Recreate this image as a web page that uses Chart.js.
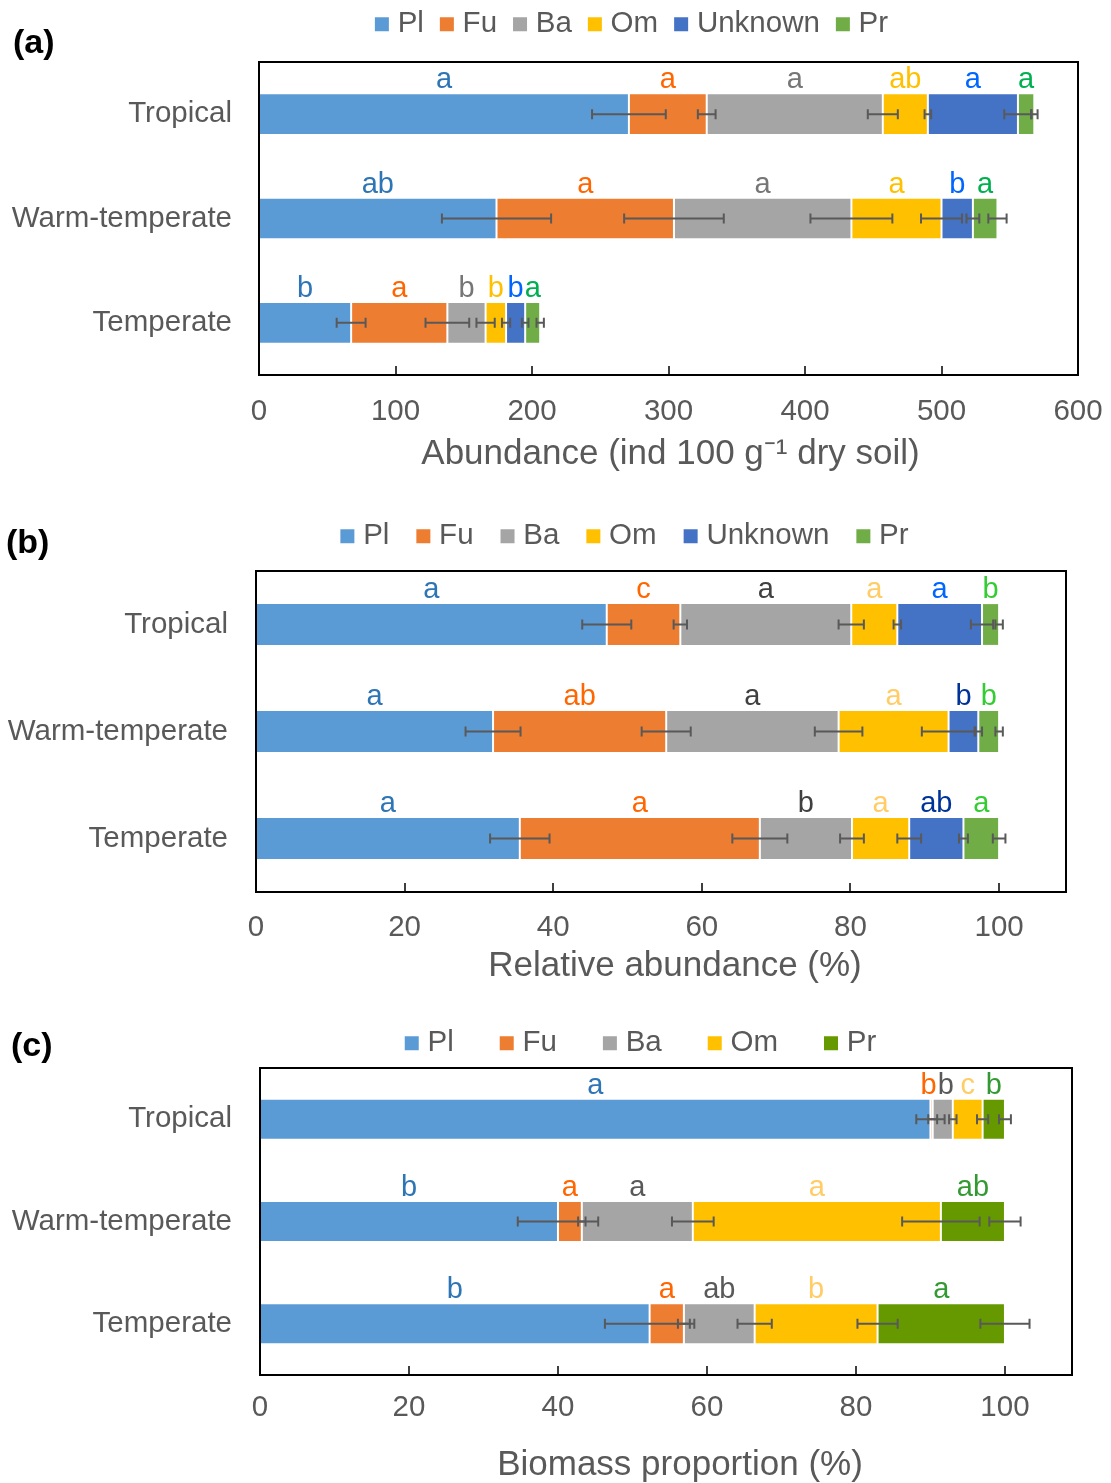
<!DOCTYPE html>
<html>
<head>
<meta charset="utf-8">
<script src="https://cdn.jsdelivr.net/npm/chart.js@4.4.1/dist/chart.umd.min.js"></script>
<style>
  html, body { margin: 0; padding: 0; background: #fff; overflow: hidden; }
  body { width: 1111px; height: 1483px; position: relative; font-family: 'Liberation Sans', Arial, sans-serif; }
  .panel { position: absolute; left: 0; width: 1111px; }
  .tag { position: absolute; font-weight: bold; font-size: 34px; line-height: 39px; color: #000; }
</style>
</head>
<body>
<div class="panel" style="top:0px;height:480px"><canvas id="chartA" width="1111" height="480"></canvas></div>
<div class="panel" style="top:490px;height:500px"><canvas id="chartB" width="1111" height="500"></canvas></div>
<div class="panel" style="top:976px;height:507px"><canvas id="chartC" width="1111" height="507"></canvas></div>
<div class="tag" style="left:13px;top:22px">(a)</div>
<div class="tag" style="left:6px;top:522px">(b)</div>
<div class="tag" style="left:11px;top:1025px">(c)</div>
<script>
// categories and groups
var categories = ['Tropical', 'Warm-temperate', 'Temperate'];
var groupsAB = ['Pl', 'Fu', 'Ba', 'Om', 'Unknown', 'Pr'];
var groupsC = ['Pl', 'Fu', 'Ba', 'Om', 'Pr'];

// (a) abundance, ind 100 g-1 dry soil  (rows: categories, columns: groups)
var abunTropical = [271, 57, 129, 33, 66, 12];
var abunWarm = [174, 130, 130, 66, 23, 18];
var abunTemperate = [67.5, 70.5, 28, 15, 14, 11];
var abunErrTropical = [27, 6.5, 11, 2.4, 10, 2.4];
var abunErrWarm = [40, 36.5, 30, 15, 4.7, 6.7];
var abunErrTemperate = [10.6, 16, 6.7, 3, 2.4, 2.7];
var abunLetTropical = ['a', 'a', 'a', 'ab', 'a', 'a'];
var abunLetWarm = ['ab', 'a', 'a', 'a', 'b', 'a'];
var abunLetTemperate = ['b', 'a', 'b', 'b', 'b', 'a'];

// (b) relative abundance, %
var relTropical = [47.2, 9.9, 23.0, 6.2, 11.4, 2.3];
var relWarm = [31.9, 23.3, 23.2, 14.8, 4.0, 2.8];
var relTemperate = [35.5, 32.3, 12.4, 7.7, 7.3, 4.8];
var relErrTropical = [3.3, 0.9, 1.7, 0.5, 1.5, 0.5];
var relErrWarm = [3.7, 3.3, 3.2, 3.6, 0.5, 0.5];
var relErrTemperate = [4.0, 3.7, 1.6, 1.6, 0.6, 0.85];
var relLetTropical = ['a', 'c', 'a', 'a', 'a', 'b'];
var relLetWarm = ['a', 'ab', 'a', 'a', 'b', 'b'];
var relLetTemperate = ['a', 'a', 'b', 'a', 'ab', 'a'];

// (c) biomass proportion, %
var bioTropical = [90.0, 0.3, 2.7, 4.0, 3.0];
var bioWarm = [40.0, 3.2, 14.9, 33.3, 8.6];
var bioTemperate = [52.3, 4.6, 9.5, 16.5, 17.1];
var bioErrTropical = [1.9, 0.6, 0.5, 0.75, 0.8];
var bioErrWarm = [5.4, 0.5, 2.8, 5.2, 2.1];
var bioErrTemperate = [6.0, 0.8, 2.3, 2.7, 3.3];
var bioLetTropical = ['a', 'b', 'b', 'c', 'b'];
var bioLetWarm = ['b', 'a', 'a', 'a', 'ab'];
var bioLetTemperate = ['b', 'a', 'ab', 'b', 'a'];

var FONT = "'Liberation Sans', Arial, sans-serif";
var GREY = '#595959';

var barColorsAB = ['#5B9BD5', '#ED7D31', '#A5A5A5', '#FFC000', '#4472C4', '#70AD47'];
var barColorsC = ['#5B9BD5', '#ED7D31', '#A5A5A5', '#FFC000', '#669900'];
// letter colours per group, one per category
var letColA = [['#2E75B6'], ['#FF6600'], ['#767676'], ['#FFC000'], ['#0066FF'], ['#00B050']];
var letColB = [['#2E75B6'], ['#FF6600'], ['#404040'], ['#FFCC66'], ['#0066FF', '#003399', '#003399'], ['#33CC33']];
var letColC = [['#2E75B6'], ['#FF6600'], ['#595959'], ['#FFCC66'], ['#339933']];

function column(rows, k) {
  return rows.map(function (r) { return r[k]; });
}

function buildDatasets(groups, colors, rows, errRows, letRows, letCols) {
  return groups.map(function (g, k) {
    return {
      label: g,
      xAxisID: 'x',
      yAxisID: 'y',
      data: column(rows, k),
      errors: column(errRows, k),
      letters: column(letRows, k),
      letterColors: letCols[k],
      backgroundColor: colors[k],
      borderColor: 'rgba(255,255,255,0.55)',
      borderWidth: 1,
      borderSkipped: false,
      barPercentage: 0.4,
      categoryPercentage: 1
    };
  });
}

function shiftTitle(chart, sign) {
  var sh = chart.options.plugins.overlay || {};
  var xs = chart.scales.x;
  xs.left += sign * (sh.titleDx || 0);
  xs.right += sign * (sh.titleDx || 0);
}

var overlay = {
  id: 'overlay',
  afterLayout: function (chart) {
    // move legend to where the original figure has it
    var sh = chart.options.plugins.overlay || {};
    var lg = chart.legend;
    if (lg) {
      lg.left += sh.dx || 0; lg.right += sh.dx || 0;
      lg.top += sh.dy || 0; lg.bottom += sh.dy || 0;
    }
  },
  // axis title is offset only while the scales are drawn
  beforeDraw: function (chart) { shiftTitle(chart, 1); },
  beforeDatasetsDraw: function (chart) { shiftTitle(chart, -1); },
  afterDatasetsDraw: function (chart) {
    var ctx = chart.ctx;
    var ca = chart.chartArea;
    var xs = chart.scales.x;
    var nCat = chart.data.labels.length;
    var zero = xs.getPixelForValue(0);

    // error bars
    ctx.save();
    ctx.strokeStyle = GREY;
    ctx.lineWidth = 2;
    chart.data.datasets.forEach(function (ds, i) {
      var meta = chart.getDatasetMeta(i);
      meta.data.forEach(function (bar, j) {
        var e = xs.getPixelForValue(ds.errors[j]) - zero;
        var cx = bar.x, cy = bar.y;
        ctx.beginPath();
        ctx.moveTo(cx - e, cy); ctx.lineTo(cx + e, cy);
        ctx.moveTo(cx - e, cy - 5); ctx.lineTo(cx - e, cy + 5);
        ctx.moveTo(cx + e, cy - 5); ctx.lineTo(cx + e, cy + 5);
        ctx.stroke();
      });
    });

    // significance letters
    ctx.font = '29px ' + FONT;
    ctx.textAlign = 'center';
    ctx.textBaseline = 'alphabetic';
    for (var j = 0; j < nCat; j++) {
      var items = [];
      var topY = 0;
      chart.data.datasets.forEach(function (ds, i) {
        var bar = chart.getDatasetMeta(i).data[j];
        var col = ds.letterColors[Math.min(j, ds.letterColors.length - 1)];
        items.push({ x: (bar.x + bar.base) / 2, w: ctx.measureText(ds.letters[j]).width, t: ds.letters[j], c: col });
        topY = bar.y - bar.height / 2;
      });
      for (var pass = 0; pass < 3; pass++) {
        for (var k = 1; k < items.length; k++) {
          var a = items[k - 1], b = items[k];
          var ov = (a.x + a.w / 2 + 1) - (b.x - b.w / 2);
          if (ov > 0) { a.x -= ov / 2; b.x += ov / 2; }
        }
      }
      items.forEach(function (it) {
        ctx.fillStyle = it.c;
        ctx.fillText(it.t, it.x, topY - 5);
      });
    }

    // plot frame and inner tick marks
    ctx.strokeStyle = '#000';
    ctx.lineWidth = 2;
    ctx.strokeRect(ca.left, ca.top, ca.right - ca.left, ca.bottom - ca.top);
    ctx.beginPath();
    xs.ticks.forEach(function (t) {
      var px = Math.round(xs.getPixelForValue(t.value));
      if (px > ca.left + 2 && px < ca.right - 2) {
        ctx.moveTo(px, ca.bottom); ctx.lineTo(px, ca.bottom - 9);
      }
    });
    ctx.lineWidth = 1.5;
    ctx.stroke();
    ctx.restore();
  }
};

function makeChart(id, datasets, opt) {
  var el = document.getElementById(id);
  return new Chart(el.getContext('2d'), {
    type: 'bar',
    data: { labels: categories, datasets: datasets },
    plugins: [overlay],
    options: {
      indexAxis: 'y',
      responsive: false,
      animation: false,
      devicePixelRatio: 1,
      layout: { padding: { left: 0, right: opt.padRight, top: 0, bottom: 0 } },
      plugins: {
        overlay: { dx: opt.legendDx, dy: opt.legendDy, titleDx: opt.titleDx },
        legend: {
          position: 'top',
          labels: {
            usePointStyle: true,
            boxWidth: 2,
            boxHeight: 14,
            padding: opt.legendPad,
            color: GREY,
            font: { family: FONT, size: 29.5 },
            generateLabels: function (chart) {
              return chart.data.datasets.map(function (ds, i) {
                return { text: ds.label, fillStyle: ds.backgroundColor, strokeStyle: ds.backgroundColor, lineWidth: 0, pointStyle: 'rect', datasetIndex: i, fontColor: GREY };
              });
            }
          }
        },
        tooltip: { enabled: false }
      },
      scales: {
        gap: {
          type: 'linear',
          position: 'top',
          min: 0, max: 1,
          display: true,
          grid: { display: false, drawTicks: false },
          border: { display: false },
          ticks: { display: false },
          afterFit: function (s) { s.height = opt.gapTop; }
        },
        x: {
          stacked: true,
          min: 0,
          max: opt.xmax,
          grid: { display: false, drawTicks: false },
          border: { display: false },
          afterBuildTicks: function (s) {
            s.ticks = s.ticks.filter(function (t) { return Math.abs(t.value % opt.step) < 1e-6; });
          },
          ticks: {
            stepSize: opt.step,
            includeBounds: false,
            padding: opt.tickPad,
            color: GREY,
            font: { family: FONT, size: 29.5 },
            maxRotation: 0
          },
          title: {
            display: true,
            text: opt.title,
            color: GREY,
            font: { family: FONT, size: 35 },
            padding: { top: 0, bottom: opt.titlePad }
          },
          afterFit: function (s) {
            s.height = opt.xHeight;
            s.paddingLeft = 0;
            s.paddingRight = 0;
          }
        },
        y: {
          stacked: true,
          grid: { display: false, drawTicks: false },
          border: { display: false },
          ticks: {
            padding: opt.yPad,
            color: GREY,
            font: { family: FONT, size: 29.5 }
          },
          afterFit: function (s) { s.width = opt.yWidth; }
        }
      }
    }
  });
}

makeChart('chartA',
  buildDatasets(groupsAB, barColorsAB,
    [abunTropical, abunWarm, abunTemperate],
    [abunErrTropical, abunErrWarm, abunErrTemperate],
    [abunLetTropical, abunLetWarm, abunLetTemperate], letColA),
  { padRight: 33, gapTop: 0.5, legendPad: 22, legendDx: 95.5, legendDy: -12.5, xmax: 600, step: 100, tickPad: 19,
    title: 'Abundance (ind 100 g\u207B\u00B9 dry soil)', titlePad: 5, titleDx: 2, xHeight: 105, yWidth: 259, yPad: 27 });

makeChart('chartB',
  buildDatasets(groupsAB, barColorsAB,
    [relTropical, relWarm, relTemperate],
    [relErrTropical, relErrWarm, relErrTemperate],
    [relLetTropical, relLetWarm, relLetTemperate], letColB),
  { padRight: 45, gapTop: 8.5, legendPad: 33, legendDx: 94.5, legendDy: -1.5, xmax: 109, step: 20, tickPad: 18,
    title: 'Relative abundance (%)', titlePad: 3, titleDx: 14, xHeight: 98, yWidth: 256, yPad: 28 });

makeChart('chartC',
  buildDatasets(groupsC, barColorsC,
    [bioTropical, bioWarm, bioTemperate],
    [bioErrTropical, bioErrWarm, bioErrTemperate],
    [bioLetTropical, bioLetWarm, bioLetTemperate], letColC),
  { padRight: 39, gapTop: 0.5, legendPad: 52, legendDx: 107.5, legendDy: 0.5, xmax: 109, step: 20, tickPad: 15,
    title: 'Biomass proportion (%)', titlePad: -3, titleDx: 14, xHeight: 108, yWidth: 260, yPad: 28 });
</script>
</body>
</html>
